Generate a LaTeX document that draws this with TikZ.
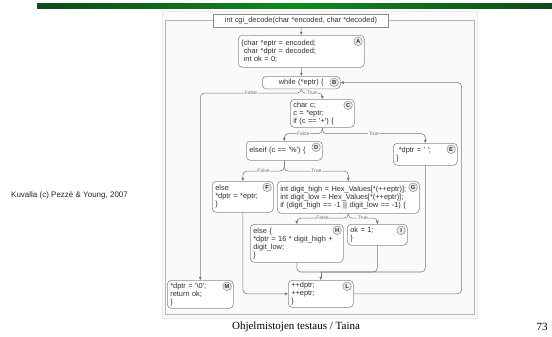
\documentclass[tikz,border=0pt]{standalone}
\usepackage{fontspec}
\setmainfont{Liberation Serif}
\newfontfamily\arial{Liberation Sans}
\usetikzlibrary{arrows.meta}
\definecolor{boxc}{HTML}{8A8A8A}
\definecolor{linec}{HTML}{7A7A7A}
\definecolor{txt}{HTML}{2E2E2E}
\definecolor{framec}{HTML}{B4B4B4}
\definecolor{gdark}{HTML}{0E4A1C}
\definecolor{gbright}{HTML}{13891F}
\definecolor{scanbg}{HTML}{FAFAFA}
\newcommand\codefont{\arial\fontsize{7.4bp}{8bp}\selectfont}
\begin{document}
\begin{tikzpicture}[x=1bp,y=-1bp,
 box/.style={draw=boxc, line width=0.6bp, rounded corners=4bp, fill=white, inner xsep=3bp, inner ysep=0.5bp, anchor=north west, align=left, font=\codefont, text=txt},
 lab/.style={circle, draw=boxc, line width=0.5bp, fill=black!8, inner sep=0pt, minimum size=8.6bp, font=\arial\bfseries\fontsize{5.8bp}{6bp}\selectfont, text=txt},
 conn/.style={draw=linec, line width=0.55bp, rounded corners=4bp},
 arr/.style={-{Triangle[length=3.2bp,width=2.8bp]}},
 tf/.style={font=\arial\fontsize{5bp}{5bp}\selectfont, text=black!55, fill=scanbg, inner sep=0.6bp}]
\useasboundingbox (0,0) rectangle (552,336);
% header bar
\shade[left color=gdark, right color=gdark, middle color=gbright] (37,3) rectangle (552,8);
% scanned area
\draw[draw=black!8, fill=scanbg] (162,11) rectangle (477,318);
\draw[framec, line width=0.6bp] (165,20.5) rectangle (474,314);
% nodes
\node[draw=boxc, fill=white, line width=.6bp, font=\codefont, text=txt, minimum width=175bp, minimum height=13bp, inner sep=0pt] (fn) at (301,20.5) {int cgi\_decode(char *encoded, char *decoded)};
\node[box, minimum width=126bp, minimum height=32bp, text width=120bp] (A) at (238,35) {\{char *eptr = encoded;\\ \phantom{\{}char *dptr = decoded;\\ \phantom{\{}int ok = 0;};
\node[box, align=center, minimum width=78bp, minimum height=12.5bp, text width=72bp] (B) at (262,76) {while (*eptr) \{};
\node[box, minimum width=64bp, minimum height=28bp, text width=58bp] (C) at (290,99) {char c;\\ c = *eptr;\\ if (c == '+') \{};
\node[box, minimum width=76bp, minimum height=19bp, text width=70bp] (D) at (246,141) {elseif (c == '\%') \{};
\node[box, minimum width=64bp, minimum height=22bp, text width=58bp] (E) at (393,143) {\hspace*{2.5bp}*dptr = ' ';\\ \}};
\node[box, minimum width=61bp, minimum height=31bp, text width=55bp] (F) at (212,181) {else\\ {*}dptr = *eptr;\\ \}};
\node[box, minimum width=142bp, minimum height=32bp, text width=136bp] (G) at (277,181) {int digit\_high = Hex\_Values[*(++eptr)];\\ int digit\_low = Hex\_Values[*(++eptr)];\\ if (digit\_high == -1 || digit\_low == -1) \{};
\node[box, minimum width=93bp, minimum height=38bp, text width=87bp] (H) at (250,224) {else \{\\ {*}dptr = 16 * digit\_high +\\ digit\_low;\\ \}};
\node[box, minimum width=60bp, minimum height=21bp, text width=54bp] (I) at (347,224) {ok = 1;\\ \}};
\node[box, minimum width=66bp, minimum height=28bp, text width=60bp] (M) at (167,280) {*dptr = '\textbackslash 0';\\ return ok;\\ \}};
\node[box, minimum width=65bp, minimum height=27bp, text width=59bp] (L) at (288,280) {++dptr;\\ ++eptr;\\ \}};
% circle labels
\foreach \n in {A,B,C,D,E,F,G,H,I,M,L}{
  \node[lab] (\n lab) at ([xshift=-6.5bp,yshift=-6.3bp]\n.north east) {\n};
}
% branch coordinates
\coordinate (bs) at ([yshift=-4bp]B.south);
\coordinate (cs) at ([yshift=-6bp]C.south);
\coordinate (ds) at ([yshift=-10.5bp]D.south);
\coordinate (gs) at ([yshift=-4.5bp]G.south);
\coordinate (lm) at ([yshift=8bp]L.north);
\coordinate (lr) at ([xshift=121bp]B.east);
% connectors
\draw[conn,arr] (fn.south) -- (A.north);
\draw[conn,arr] (A.south) -- (B.north);
\draw[conn,arr] (B.south) -- (bs) -| node[tf,pos=.25]{False} (M.north);
\draw[conn,arr] (B.south) -- (bs) -| node[tf,pos=.25]{True} (C.north);
\draw[conn,arr] (C.south) -- (cs) -| node[tf,pos=.25]{False} (D.north);
\draw[conn,arr] (C.south) -- (cs) -| node[tf,pos=.25]{True} (E.north);
\draw[conn,arr] (D.south) -- (ds) -| node[tf,pos=.25]{False} (F.north);
\draw[conn,arr] (D.south) -- (ds) -| node[tf,pos=.25]{True} (G.north);
\draw[conn,arr] (G.south) -- (gs) -| node[tf,pos=.25]{False} (H.north);
\draw[conn,arr] (G.south) -- (gs) -| node[tf,pos=.25]{True} (I.north);
\draw[conn] (H.south) |- (lm);
\draw[conn] (I.south) |- (lm);
\draw[conn] (E.south) |- (lm);
\draw[conn,arr] (lm) -- (L.north);
\draw[conn,arr] (F.south) |- (L.west);
\draw[conn,arr] (L.east) -| (lr) -- (B.east);
% side texts
\node[font=\arial\fontsize{8bp}{9bp}\selectfont, anchor=west, inner sep=0pt, text=black!85] (cred) at (11,195) {Kuvalla (c) Pezzè \& Young, 2007};
\node[font=\fontsize{11bp}{12bp}\selectfont, inner sep=0pt] (foot) at (296,327) {Ohjelmistojen testaus / Taina};
\node[font=\fontsize{11bp}{12bp}\selectfont, inner sep=0pt] (pg) at (542,327) {73};
\end{tikzpicture}
\end{document}
